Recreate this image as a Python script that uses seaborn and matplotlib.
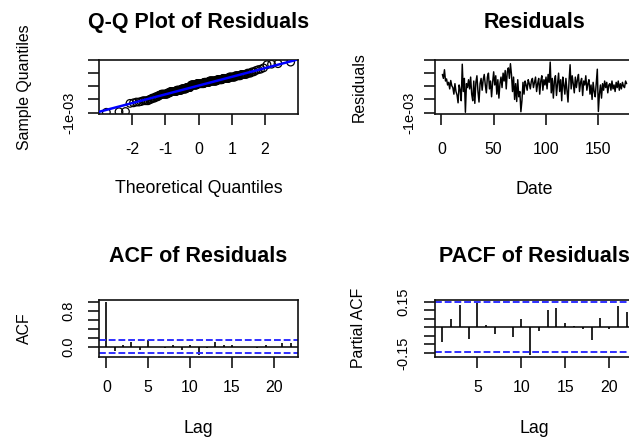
from statistics import NormalDist
import numpy as np
import pandas as pd
import matplotlib
matplotlib.use("Agg")
import matplotlib.pyplot as plt
import seaborn as sns

# --- Datos ---
# residuos en unidades de 1e-03, t = 1..177
residuos_e3 = [
    0.45, 0.30, 0.63, 0.20, 0.28, 0.05, 0.15, -0.10, 0.22, 0.02,
    -0.05, -0.30, 0.10, -0.20, -0.33, -0.63, 0.05, -0.15, -0.55, 0.84,
    -0.20, 0.30, -0.99, 0.10, -0.05, 0.25, -0.10, 0.35, -0.30, -0.55,
    0.20, -0.65, 0.15, 0.40, -0.20, -0.60, 0.10, 0.30, -0.15, 0.25,
    0.45, 0.05, -0.25, 0.35, 0.50, -0.10, 0.20, -0.40, 0.15, 0.55,
    0.05, 0.40, -0.30, 0.25, -0.45, 0.10, 0.35, -0.05, 0.50, 0.20,
    0.60, -0.10, 0.55, 0.70, 0.30, 0.86, 0.45, -0.20, 0.35, -0.50,
    0.10, -0.58, 0.25, -0.40, -0.20, -0.97, -0.55, 0.15, -0.30, 0.20,
    0.05, -0.15, 0.25, 0.10, -0.10, 0.20, 0.30, -0.05, 0.15, 0.35,
    -0.20, 0.10, 0.30, -0.30, 0.20, 0.40, -0.15, 0.25, 0.05, 0.35,
    -0.10, 0.45, 0.15, 0.92, -0.25, 0.30, -0.45, 0.20, 0.40, -0.35,
    0.10, 0.50, -0.20, 0.25, -0.55, 0.35, 0.05, -0.30, 0.30, -0.15,
    -0.60, 0.20, 0.82, -0.10, 0.40, 0.10, -0.25, 0.35, -0.05, 0.25,
    0.45, -0.20, 0.15, 0.30, -0.35, 0.20, 0.05, 0.40, -0.15, 0.10,
    0.25, -0.30, 0.05, -0.50, 0.15, -0.20, -0.40, 0.10, 0.65, -0.96,
    -0.30, 0.05, -0.45, 0.10, -0.15, 0.20, -0.05, 0.15, -0.25, 0.05,
    0.10, -0.15, 0.20, -0.10, 0.05, -0.20, 0.15, -0.05, 0.20, -0.15,
    0.10, -0.10, 0.15, 0.00, -0.05, 0.20, 0.10,
]

acf_lags = list(range(0, 23))
acf_vals = [1.0, -0.087, 0.05, 0.11, -0.07, 0.155, 0.005, -0.02, 0.05, -0.07,
            0.05, -0.175, -0.02, 0.105, 0.03, 0.03, 0.005, -0.005, -0.02, 0.04,
            0.0, 0.09, 0.075]

pacf_lags = list(range(1, 23))
pacf_vals = [-0.087, 0.048, 0.128, -0.066, 0.145, 0.014, -0.042, 0.003, -0.057, 0.048,
             -0.16, -0.02, 0.10, 0.114, 0.024, 0.01, -0.012, -0.077, 0.054, -0.01,
             0.124, 0.088]

qq_xticks = [-2, -1, 0, 1, 2]
res_xticks = [0, 50, 100, 150]
acf_xticks = [0, 5, 10, 15, 20]
pacf_xticks = [5, 10, 15, 20]
res_yticks = [-1e-3, -5e-4, 0, 5e-4, 1e-3]
res_yticklabels = ["-1e-03", "", "", "", ""]
acf_yticks = [0.0, 0.2, 0.4, 0.6, 0.8, 1.0]
acf_yticklabels = ["0.0", "", "", "", "0.8", ""]
pacf_yticks = [-0.15, -0.10, -0.05, 0.0, 0.05, 0.10, 0.15]
pacf_yticklabels = ["-0.15", "", "", "", "", "", "0.15"]

# --- Calculos (como qqnorm/qqline/acf de R) ---
res = np.array(residuos_e3) * 1e-3
N = len(res)
fechas = np.arange(1, N + 1)
nd = NormalDist()
teorico = np.array([nd.inv_cdf((i - 0.5) / N) for i in range(1, N + 1)])
df_qq = pd.DataFrame({"teorico": teorico, "muestra": np.sort(res)})
q1, q3 = np.quantile(res, [0.25, 0.75])
x1, x3 = nd.inv_cdf(0.25), nd.inv_cdf(0.75)
pendiente = (q3 - q1) / (x3 - x1)
clim = nd.inv_cdf(0.975) / np.sqrt(N)


def r_lim(lo, hi):
    pad = 0.04 * (hi - lo)
    return lo - pad, hi + pad


sns.set_theme(style="white", rc={"axes.edgecolor": "black", "text.color": "black",
                                 "xtick.color": "black", "ytick.color": "black",
                                 "axes.labelcolor": "black"})
plt.rcParams["font.family"] = ["Liberation Sans", "DejaVu Sans"]

W, H = 629, 438
fig = plt.figure(figsize=(W / 100, H / 100), dpi=100)
fig.patch.set_facecolor("white")


def nuevo_ax(box):
    l, t, r, b = box
    return fig.add_axes([l / W, 1 - b / H, (r - l) / W, (b - t) / H])


def estilo(ax, box, xticks, yticks, ylabs, titulo, xlab, ylab,
           y_tit, y_xlab, x_ylab, pad_x, pad_y):
    l, t, r, b = box
    for s in ax.spines.values():
        s.set_visible(True)
        s.set_color("#111111")
        s.set_linewidth(1.2)
    ax.set_xticks(xticks, labels=[str(v) for v in xticks])
    ax.set_yticks(yticks, labels=ylabs, rotation=90, va="center")
    ax.tick_params(direction="out", length=8, width=1.1, bottom=True, left=True,
                   top=False, right=False)
    ax.tick_params(axis="x", labelsize=11.4, pad=pad_x)
    ax.tick_params(axis="y", labelsize=10.5, pad=pad_y)
    ax.set_title(titulo, fontsize=15.5, fontweight="bold", pad=0,
                 y=(b - y_tit) / (b - t), va="baseline")
    ax.set_xlabel(xlab, fontsize=12.8, va="baseline")
    ax.xaxis.set_label_coords(0.5, (b - y_xlab) / (b - t))
    ax.set_ylabel(ylab, fontsize=11.4, va="baseline")
    ax.yaxis.set_label_coords((x_ylab - l) / (r - l), 0.5)


# 1. Q-Q Plot
box_qq = (99, 60, 298, 114.3)
ax = nuevo_ax(box_qq)
sns.scatterplot(data=df_qq, x="teorico", y="muestra", ax=ax, marker="o", s=30,
                facecolor="none", edgecolor="black", linewidth=0.9, zorder=2)
ax.axline((x1, q1), slope=pendiente, color="blue", linewidth=1.8, zorder=3)
ax.set_xlim(*r_lim(teorico.min(), teorico.max()))
ax.set_ylim(*r_lim(res.min(), res.max()))
estilo(ax, box_qq, qq_xticks, res_yticks, res_yticklabels, "Q-Q Plot of Residuals",
       "Theoretical Quantiles", "Sample Quantiles", 28, 193, 29, 12.3, 8.3)

# 2. Residuos en el tiempo
box_res = (435, 60, 634, 114.3)
ax = nuevo_ax(box_res)
sns.lineplot(x=fechas, y=res, ax=ax, color="black", linewidth=1.05)
ax.set_xlim(*r_lim(fechas.min(), fechas.max()))
ax.set_ylim(*r_lim(res.min(), res.max()))
estilo(ax, box_res, res_xticks, res_yticks, res_yticklabels, "Residuals",
       "Date", "Residuals", 28, 194, 364, 12.3, 5.6)

# 3. ACF
box_acf = (99, 300, 298, 356.7)
ax = nuevo_ax(box_acf)
ax.vlines(acf_lags, 0, acf_vals, color="black", linewidth=1.2)
ax.axhline(0, color="black", linewidth=1.1)
for c in (clim, -clim):
    ax.axhline(c, color="#2f2fff", linewidth=1.4, linestyle=(0, (3.5, 1.5)))
ax.set_xlim(*r_lim(min(acf_lags), max(acf_lags)))
ax.set_ylim(*r_lim(min(min(acf_vals), -clim), max(max(acf_vals), clim)))
estilo(ax, box_acf, acf_xticks, acf_yticks, acf_yticklabels, "ACF of Residuals",
       "Lag", "ACF", 261.5, 433, 29, 9.1, 9.0)

# 4. PACF
box_pacf = (435, 300, 634, 356.7)
ax = nuevo_ax(box_pacf)
ax.vlines(pacf_lags, 0, pacf_vals, color="black", linewidth=1.2)
ax.axhline(0, color="black", linewidth=1.1)
for c in (clim, -clim):
    ax.axhline(c, color="#2f2fff", linewidth=1.4, linestyle=(0, (3.5, 1.5)))
ax.set_xlim(*r_lim(min(pacf_lags), max(pacf_lags)))
ax.set_ylim(*r_lim(min(min(pacf_vals), -clim), max(max(pacf_vals), clim)))
estilo(ax, box_pacf, pacf_xticks, pacf_yticks, pacf_yticklabels, "PACF of Residuals",
       "Lag", "Partial ACF", 261.5, 433, 363, 9.1, 9.8)

fig.savefig("out.png", dpi=100)
